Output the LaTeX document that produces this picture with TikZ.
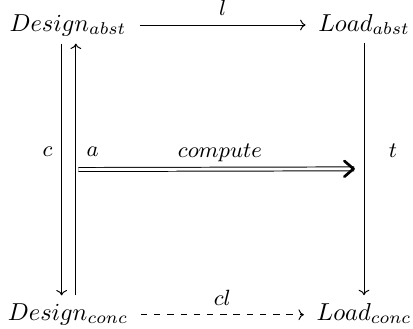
\documentclass[tikz,border=0pt]{standalone}
\usetikzlibrary{arrows.meta}
\begin{document}
\begin{tikzpicture}[x=0.408pt,y=-0.408pt,
  obj/.style={anchor=base,inner sep=3pt},
  arr/.style={-{To[length=2.2pt,width=4.4pt]},line width=0.4pt},
  lbl/.style={font=\small,inner sep=2pt}]
\useasboundingbox (0,0) rectangle (413,328);
\node[obj] (dA) at (68,31) {$Design_{abst}$};
\node[obj] (lA) at (364,31) {$Load_{abst}$};
\node[obj] (dC) at (68,320) {$Design_{conc}$};
\node[obj] (lC) at (364,320) {$Load_{conc}$};
\draw[arr] ([xshift=2.2pt,yshift=0.3pt]dA.mid east) -- node[lbl,above=1.5pt] {$l$} ([xshift=-2pt,yshift=0.3pt]lA.mid west);
\draw[arr] ([xshift=-2.6pt]dA.south) -- node[lbl,pos=0.43,left=1.5pt] {$c$} ([xshift=-2.6pt]dC.north);
\draw[arr] ([xshift=3.2pt]dC.north) -- coordinate[pos=0.5] (am) node[lbl,pos=0.57,right=2.2pt] {$a$} ([xshift=3.2pt]dA.south);
\draw[arr] (lA.south) -- coordinate[pos=0.5] (tm) node[lbl,pos=0.43,right=8pt] {$t$} (lC.north);
\draw[arr,dash pattern=on 2.6pt off 2.8pt] ([xshift=2pt]dC.mid east) -- node[lbl,above=1.5pt] {$cl$} ([xshift=-2pt]lC.mid west);
\draw[double,double distance=1.2pt,line width=0.4pt,shorten <=1pt,shorten >=4pt] (am) -- node[lbl,above=1pt] {$compute$} (tm);
\draw[line width=1.1pt,line cap=round,line join=round] ([xshift=-8pt,yshift=3.2pt]tm) -- ([xshift=-4.3pt]tm) -- ([xshift=-8pt,yshift=-3.2pt]tm);
\end{tikzpicture}
\end{document}
